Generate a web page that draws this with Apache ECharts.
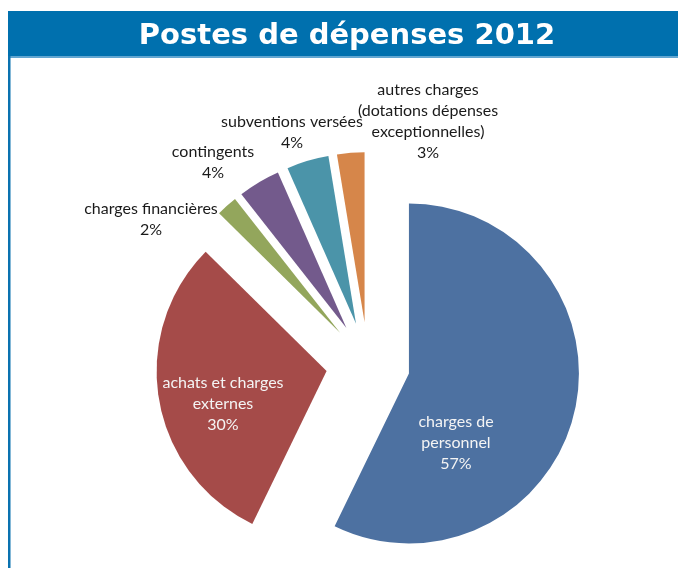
<!DOCTYPE html>
<html>
<head>
<meta charset="utf-8">
<title>Postes de dépenses 2012</title>
<script src="https://cdn.jsdelivr.net/npm/echarts@6/dist/echarts.min.js"></script>
<style>
  html, body { margin: 0; padding: 0; background: #fff; }
  #chart { width: 678px; height: 568px; }
</style>
</head>
<body>
<div id="chart"></div>
<script>
// Postes de dépenses (parts en %)
const categories = [
  'charges de\npersonnel',
  'achats et charges\nexternes',
  'charges financières',
  'contingents',
  'subventions versées',
  'autres charges\n(dotations dépenses\nexceptionnelles)'
]
const values = [57.2, 30.2, 2.0, 4.0, 4.0, 2.6]
const colors = ['#4d71a1', '#a54b49', '#93a65c', '#735a8c', '#4b94a9', '#d6864a']

// position des étiquettes (centre du bloc de texte)
const labelSpots = [
  [456, 443],
  [223, 404],
  [151, 219],
  [213, 162],
  [292, 132],
  [428, 121]
]
const insideLabel = [true, true, false, false, false, false]

const pieCenter = [368, 364]
const pieRadius = 170
const explode = 42

const chart = echarts.init(document.getElementById('chart'))

// secteurs éclatés : une série par secteur, décalée selon l'angle médian
const total = values.reduce((a, b) => a + b, 0)
let acc = 0
const series = values.map((v, k) => {
  const mid = (acc + v / 2) / total * Math.PI * 2
  acc += v
  const cx = pieCenter[0] + explode * Math.sin(mid)
  const cy = pieCenter[1] - explode * Math.cos(mid)
  return {
    type: 'pie',
    center: [cx, cy],
    radius: pieRadius,
    startAngle: 90,
    clockwise: true,
    silent: true,
    avoidLabelOverlap: false,
    percentPrecision: 0,
    labelLine: { show: false },
    label: {
      formatter: '{b}\n{d}%',
      fontFamily: 'Lato',
      fontSize: 16,
      lineHeight: 21
    },
    labelLayout: function (params) {
      const p = labelSpots[params.dataIndex]
      return { x: p[0], y: p[1], align: 'center', verticalAlign: 'middle' }
    },
    data: categories.map((name, i) => ({
      name: name,
      value: values[i],
      itemStyle: { color: i === k ? colors[i] : 'rgba(0,0,0,0)' },
      label: {
        show: i === k,
        position: insideLabel[i] ? 'inside' : 'outside',
        color: insideLabel[i] ? '#f4f4f4' : '#1a1a1a'
      }
    }))
  }
})

const option = {
  animation: false,
  graphic: [
    // bandeau du titre
    { type: 'rect', shape: { x: 8, y: 11, width: 670, height: 45 }, style: { fill: '#0070ae' } },
    { type: 'rect', shape: { x: 8, y: 56, width: 670, height: 2 }, style: { fill: '#62a6d1' } },
    // filet vertical à gauche
    { type: 'rect', shape: { x: 8, y: 56, width: 2.5, height: 512 }, style: { fill: '#0a72b0' } },
    {
      type: 'text',
      x: 347,
      y: 36,
      style: {
        text: 'Postes de dépenses 2012',
        fill: '#fff',
        font: 'bold 29px "DejaVu Sans", sans-serif',
        align: 'center',
        verticalAlign: 'middle'
      }
    }
  ],
  series: series
}

chart.setOption(option)
</script>
</body>
</html>
